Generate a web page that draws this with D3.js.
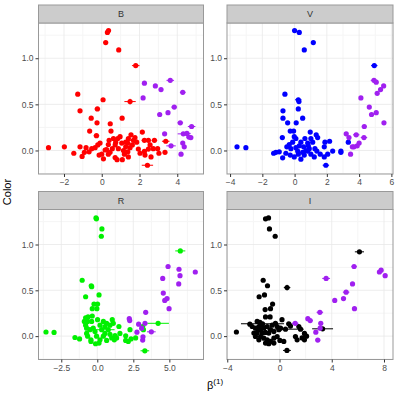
<!DOCTYPE html>
<html lang="en">
<head>
<meta charset="UTF-8">
<title>Color vs beta(1)</title>
<style>
  body { margin: 0; background: #fff; }
  svg { font-family: "Liberation Sans", Arial, sans-serif; }
</style>
</head>
<body>
<div id="chart"></div>
<script src="https://d3js.org/d3.v7.min.js"></script>
<script>
// panel order: B, V (top row), R, I (bottom row)
const panelNames = ["B", "V", "R", "I"];
const mainColors = ["#ff0000", "#0000ff", "#00f000", "#000000"];
const purple = "#a020f0";

// x range per panel (with ggplot expansion), y shared
const xDomains = [[-3.35, 5.39], [-4.19, 6.1], [-4.08, 7.37], [-4.02, 8.69]];
const yDomain = [-0.255, 1.382];
const xTicks = [[-2, 0, 2, 4], [-4, -2, 0, 2, 4, 6], [-2.5, 0, 2.5, 5], [-4, 0, 4, 8]];
const xMinor = [[-3, -1, 1, 3, 5], [-3, -1, 1, 3, 5], [-3.75, -1.25, 1.25, 3.75, 6.25], [-2, 2, 6]];
const yTicks = [0, 0.5, 1.0];
const yMinor = [-0.25, 0.25, 0.75, 1.25];

// points: [x, y, xerr, yerr]
const pointsB = [
  [0.3,1.28],[0.36,1.30],[0.21,1.17,0.12],[0.9,1.09],[1.8,0.92,0.2,0.02],[-1.27,0.61],[0.07,0.55],
  [1.5,0.53,0.3,0.03],[-1.15,0.43],[-0.23,0.45,0.15],[-0.56,0.35],[1.08,0.35],[-0.25,0.30],[0.45,0.29],
  [-0.64,0.21],[0.49,0.21],[2.15,0.20],[-0.28,0.16,0.15],
  [-2.82,0.03],[-1.98,0.04],[-1.48,-0.03],[-1.04,-0.065],[-1.15,0.04],[-0.83,0.03],[-0.92,-0.02],
  [-0.67,-0.015],[-0.53,0.02],[-0.21,0.06],[-0.09,0.08],[-0.14,-0.05],[0,-0.04],[0.26,0.01],[0.35,0.065],
  [0.39,0.11],[0.62,0.13],[0.74,0.09],[0.85,0.13,0.2],[0.97,0.15],[0.71,0.06],[0.56,0.02],[0.71,-0.076],
  [0.81,-0.10],[1.09,-0.10],[1.15,0.0],[1.27,0.04],[1.38,0.08],[1.41,0.13],[1.55,0.17],[1.68,0.11,0.25],
  [1.76,0.14],[1.85,0.09],[1.62,0.06],[1.5,0.03],[1.38,-0.015],[1.2,-0.04],[1.27,0.09],[0.88,0.02],
  [1.06,0.08],[1.94,0.015],[2.03,-0.03],[2.26,-0.01],[2.29,-0.05],[2.47,0.015],[2.56,0.06],[2.61,-0.07],
  [2.26,0.11,0.15],[2.79,0.11,0.15],[2.47,0.11],[2.73,0.02],[2.96,0.02],[3.03,-0.03],[3.39,0.10,0.2],
  [3.35,-0.02],[2.42,-0.16,0.3,0.02],[1.41,-0.07],[0.44,-0.02],[0.18,0.005],[0.09,-0.09],[0.35,-0.04],
  [-0.35,0.03]
];
const purpleB = [
  [2.26,0.73],[2.84,0.70],[3.14,0.66],[2.19,0.57],[3.63,0.76,0.2],[4.29,0.63,0.15],[3.84,0.47,0.15],
  [3.07,0.39],[3.51,0.41],[4.16,0.30,0.15],[4.76,0.26,0.2],[3.33,0.18],[4.32,0.18,0.3],[4.51,0.185,0.2],
  [4.62,0.145,0.15],[4.72,0.14],[4.29,0.08],[4.37,0.04],[3.67,0.05,0.25],[4.2,-0.04]
];
const pointsV = [
  [0,1.30],[0.29,1.28],[1.16,1.17],[0.6,1.09],[4.94,0.92,0.2,0.02],[-0.6,0.61],[0.23,0.55,0.2,0.02],
  [0.27,0.53],[-0.72,0.43],[0.23,0.45],[-0.72,0.35],[0.5,0.35],[-0.43,0.30],[0.1,0.30],[-0.27,0.21],
  [-0.06,0.21],[0.97,0.20],[1.34,0.17],[-0.76,0.14],[-0.02,0.15],[0.08,0.13],[0.64,0.13],[1.01,0.13],
  [1.43,0.14],[1.12,0.09],[0.81,0.08],[0.39,0.09],[-0.12,0.09],[-0.33,0.065],[-0.48,0.04],[-0.23,0.02],
  [0.08,0.03],[0.29,0.05],[0.56,0.04],[0.85,0.05],[1.26,0.02],[1.84,0.04],[1.88,0.09],[2.17,0.10],
  [2.36,-0.007],[2.05,-0.04],[1.84,-0.07],[1.59,-0.04],[1.38,-0.007],[1.01,-0.04],[0.81,-0.007],[0.5,-0.02],
  [0.23,-0.04],[-0.02,-0.07],[0.39,-0.094],[-0.27,-0.05],[-0.54,-0.03],[-0.74,-0.08],[-0.95,-0.015],
  [-1.16,-0.02],[-1.3,-0.03],[-3.57,0.04],[-3.02,0.03],[2.87,-0.007],[2.87,-0.02],[3.33,0.09,0.15],
  [1.94,-0.16,0.2,0.02],[0.6,-0.05],[1.22,-0.07],[0.91,0.02],[0.7,0.0],[0.19,-0.007]
];
const purpleV = [
  [4.92,0.76,0.2],[5.06,0.74],[5.52,0.70],[5.33,0.66],[5.12,0.62],[4.11,0.57],[4.63,0.47],[4.77,0.39],
  [5.06,0.41],[5.54,0.30],[4.32,0.26,0.15],[3.2,0.18],[3.82,0.17,0.2],[4.3,0.14,0.2],[3.37,0.14],
  [4.0,0.08],[3.88,0.05],[3.68,0.04,0.2],[3.47,-0.04],[3.58,0.04]
];
const pointsR = [
  [-0.09,1.29],[-0.06,1.28],[0.32,1.17],[0.28,1.09],[5.76,0.93,0.35,0.02],[-1.05,0.61],[-0.42,0.55],
  [-0.39,0.54],[0.12,0.45],[-0.81,0.43],[-0.23,0.35],[0.02,0.35],[-0.35,0.30],[-0.03,0.30],[-0.64,0.21],
  [-0.81,0.20],[-0.35,0.22],[-3.56,0.045],[-3.0,0.04],[-1.55,-0.015],[-1.23,-0.03],[4.22,0.14,0.75],
  [3.3,-0.16,0.3,0.02],[-0.9,0.16],[-0.67,0.16],[-0.39,0.16],[-0.81,0.12],[1.04,0.18],[0.02,0.18],
  [-0.74,0.03],[-0.67,0.0],[-0.44,-0.04],[-0.16,0.05],[-0.05,0.0],[0.12,-0.076],[0.19,-0.04],[0.42,0.0],
  [0.53,0.03],[0.76,0.07],[0.88,0.02],[1.0,-0.02],[1.18,-0.04],[1.34,-0.02],[1.5,0.105],[1.57,0.03],
  [1.97,0.004],[1.97,-0.047],[2.15,-0.058],[2.34,-0.03],[2.66,-0.02],[2.27,0.07],[3.15,0.105],[3.2,0.07],
  [-0.28,0.087],[-0.51,0.07],[-0.74,0.087],[0.3,0.07,0.9],[0.53,0.105],[0.88,0.12],[1.11,0.14],
  [0.65,0.14],[0.19,0.12],[0.42,0.16],[-0.44,-0.058],[-0.12,-0.083],[1.23,0.007],[0.65,-0.047]
];
const purpleR = [
  [4.91,0.76],[5.67,0.73],[5.74,0.66],[6.8,0.70],[4.54,0.63],[5.65,0.57],[4.58,0.47],[4.68,0.39],
  [4.84,0.41],[4.98,0.30],[3.36,0.26],[2.22,0.19],[2.25,0.17],[2.87,0.13],[3.31,0.14],[3.08,0.087],
  [2.75,0.043],[3.75,0.047,0.3],[3.15,-0.043],[3.17,-0.007]
];
const pointsI = [
  [-1.07,1.28],[-0.84,1.29],[-0.77,1.17],[-0.33,1.09],[6.12,0.92,0.35,0.02],[-1.25,0.61],[-0.92,0.55],
  [0.58,0.53,0.25,0.03],[-1.15,0.45],[-1.56,0.43],[-0.53,0.35],[-0.69,0.30],[-1.1,0.29],[-1.07,0.21],
  [-0.72,0.21],[0.19,0.18],[-3.3,0.045],[0.57,-0.156,0.3,0.02],[3.3,0.08,0.8],[-1.3,0.135,1.65],
  [-2.27,0.13],[0.46,0.076,1.4],[0.71,0.134,0.2],[0.84,0.11],[1.48,0.105],[1.61,0.076],[1.22,-0.004],
  [1.35,-0.04],[1.73,-0.02],[1.91,-0.04],[2.07,0],[1.91,0.03],
  [-1.71,0.16],[-1.5,0.15],[-1.33,0.12],[-1.58,0.105],[-1.84,0.087],[-1.45,0.07],[-1.2,0.087],
  [-0.94,0.105],[-0.56,0.12],[-0.31,0.14],[-0.18,0.105],[0.08,0.087],[-0.05,0.07],[-0.69,0.07],
  [-0.43,0.05],[-0.82,0.033],[-1.07,0.04],[-1.33,0.033],[-1.71,0.033],[-1.84,-0.004],[-1.45,-0.004],
  [-1.2,-0.022],[-0.94,-0.04],[-0.69,-0.058],[-0.82,-0.083],[-0.43,-0.022],[-0.18,-0.004],[0.33,-0.058],
  [0.03,-0.047],[-1.58,-0.04],[-1.96,0.033],[-1.66,0.07],[-1.07,-0.076],[-0.43,-0.076],[-2.09,0.105]
];
const purpleI = [
  [5.71,0.76,0.2],[7.78,0.72],[7.65,0.70],[8.09,0.66],[3.57,0.63,0.3],[5.59,0.57],[5.1,0.48,0.25],
  [4.23,0.39],[4.9,0.41],[5.74,0.30],[3.09,0.26,0.25],[2.17,0.19],[2.35,0.17,0.2],[1.2,0.14,0.25],
  [3.16,0.14],[3.11,0.087],[2.78,0.043],[2.93,-0.043,0.2]
];

const mainPoints = [pointsB, pointsV, pointsR, pointsI];
const purplePoints = [purpleB, purpleV, purpleR, purpleI];

const W = 399, H = 399;
const cols = [[38.5, 203.5], [227, 393]];
const rows = [[23, 174], [209.5, 359.5]];
const stripH = 18;

const svg = d3.select("#chart").append("svg")
    .attr("width", W)
    .attr("height", H);

panelNames.forEach(function(name, i) {
  const c = cols[i % 2], r = rows[Math.floor(i / 2)];
  const x = d3.scaleLinear().domain(xDomains[i]).range(c);
  const y = d3.scaleLinear().domain(yDomain).range([r[1], r[0]]);
  const g = svg.append("g");

  // panel background + grid
  g.append("rect")
    .attr("x", c[0]).attr("y", r[0])
    .attr("width", c[1] - c[0]).attr("height", r[1] - r[0])
    .attr("fill", "#fff");

  g.selectAll(".xminor").data(xMinor[i].filter(v => v > xDomains[i][0] && v < xDomains[i][1]))
    .enter().append("line")
    .attr("x1", d => x(d)).attr("x2", d => x(d))
    .attr("y1", r[0]).attr("y2", r[1])
    .attr("stroke", "#f5f5f5").attr("stroke-width", 1);
  g.selectAll(".yminor").data(yMinor)
    .enter().append("line")
    .attr("x1", c[0]).attr("x2", c[1])
    .attr("y1", d => y(d)).attr("y2", d => y(d))
    .attr("stroke", "#f5f5f5").attr("stroke-width", 1);
  g.selectAll(".xmajor").data(xTicks[i])
    .enter().append("line")
    .attr("x1", d => x(d)).attr("x2", d => x(d))
    .attr("y1", r[0]).attr("y2", r[1])
    .attr("stroke", "#e8e8e8").attr("stroke-width", 0.8);
  g.selectAll(".ymajor").data(yTicks)
    .enter().append("line")
    .attr("x1", c[0]).attr("x2", c[1])
    .attr("y1", d => y(d)).attr("y2", d => y(d))
    .attr("stroke", "#e8e8e8").attr("stroke-width", 0.8);

  // error bars then points, main colour first, purple on top
  [[mainPoints[i], mainColors[i]], [purplePoints[i], purple]].forEach(function(set) {
    const data = set[0], col = set[1];
    g.selectAll(null).data(data.filter(d => d[2]))
      .enter().append("line")
      .attr("x1", d => x(d[0] - d[2])).attr("x2", d => x(d[0] + d[2]))
      .attr("y1", d => y(d[1])).attr("y2", d => y(d[1]))
      .attr("stroke", col).attr("stroke-width", 1);
    g.selectAll(null).data(data.filter(d => d[3]))
      .enter().append("line")
      .attr("x1", d => x(d[0])).attr("x2", d => x(d[0]))
      .attr("y1", d => y(d[1] - d[3])).attr("y2", d => y(d[1] + d[3]))
      .attr("stroke", col).attr("stroke-width", 1);
    g.selectAll(null).data(data)
      .enter().append("circle")
      .attr("cx", d => x(d[0]))
      .attr("cy", d => y(d[1]))
      .attr("r", 2.6)
      .attr("fill", col);
  });

  // border
  g.append("rect")
    .attr("x", c[0]).attr("y", r[0])
    .attr("width", c[1] - c[0]).attr("height", r[1] - r[0])
    .attr("fill", "none").attr("stroke", "#999").attr("stroke-width", 1);

  // strip
  g.append("rect")
    .attr("x", c[0]).attr("y", r[0] - stripH)
    .attr("width", c[1] - c[0]).attr("height", stripH)
    .attr("fill", "#cccccc").attr("stroke", "#999").attr("stroke-width", 1);
  g.append("text")
    .attr("x", (c[0] + c[1]) / 2).attr("y", r[0] - stripH / 2)
    .attr("dy", "0.35em")
    .attr("text-anchor", "middle")
    .style("font-size", "9px")
    .style("fill", "#333")
    .text(name);

  // axes
  const fmt = i === 2 ? d3.format(".1f") : d3.format("d");
  const xAxis = g.append("g")
    .attr("transform", "translate(0," + r[1] + ")")
    .call(d3.axisBottom(x).tickValues(xTicks[i]).tickFormat(fmt).tickSize(3).tickSizeOuter(0).tickPadding(2));
  const yAxis = g.append("g")
    .attr("transform", "translate(" + c[0] + ",0)")
    .call(d3.axisLeft(y).tickValues(yTicks).tickFormat(d3.format(".1f")).tickSize(3).tickSizeOuter(0).tickPadding(2));
  [xAxis, yAxis].forEach(function(a) {
    a.select(".domain").remove();
    a.selectAll(".tick line").attr("stroke", "#333");
    a.selectAll(".tick text")
      .style("font-size", "8.5px")
      .style("font-family", "'Liberation Sans', Arial, sans-serif")
      .attr("fill", "#4d4d4d");
  });
});

// axis titles
svg.append("text")
  .attr("transform", "translate(11,192) rotate(-90)")
  .attr("text-anchor", "middle")
  .style("font-size", "11px")
  .style("fill", "#000")
  .text("Color");

const xt = svg.append("text")
  .attr("x", 215).attr("y", 389)
  .attr("text-anchor", "middle")
  .style("font-size", "11px")
  .style("fill", "#000");
xt.append("tspan").text("β");
xt.append("tspan").attr("dy", -5).style("font-size", "8px").text("(1)");
</script>
</body>
</html>
